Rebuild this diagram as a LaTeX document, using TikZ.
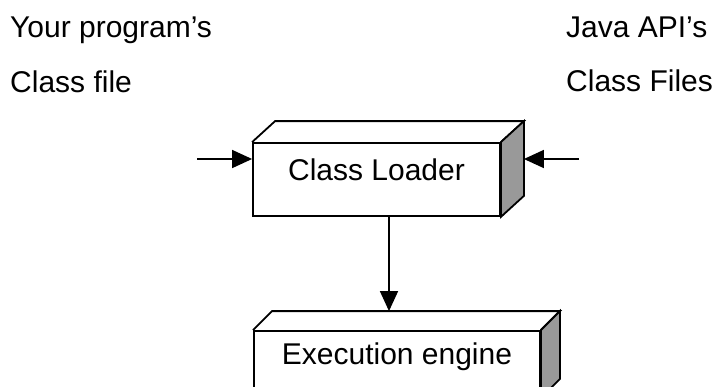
\documentclass[tikz,border=0pt]{standalone}
\usepackage{fontspec}
\setmainfont{Liberation Sans}
\usetikzlibrary{arrows.meta,calc}

\tikzset{
  stage/.style={draw, line width=1.8pt, fill=white, inner sep=0pt,
    minimum height=73pt, text depth=20pt, font=\fontsize{30}{36}\selectfont},
  srctext/.style={anchor=base west, inner sep=0pt, font=\fontsize{30}{36}\selectfont},
  facestroke/.style={line width=1.8pt, line join=miter},
  feed/.style={line width=1.5pt, -{Triangle[length=20pt,width=18pt]}},
}

% top and side face of a block whose front face is node #1
\newcommand{\blockfaces}[3]{%
  \draw[facestroke] (#1.north west) -- ++(#2,-#3)
    -- ([shift={(#2,-#3)}]#1.north east) coordinate (#1-rear) -- (#1.north east);
  \filldraw[facestroke, fill=black!40] (#1.north east) -- (#1-rear)
    -- ([shift={(#2,-#3)}]#1.south east) -- (#1.south east) -- cycle;
}

\begin{document}
\begin{tikzpicture}[x=1pt, y=-1pt]
    \clip (0,0) rectangle (717,386);
    \fill[white] (0,0) rectangle (717,386);
    % where the class files come from
    \node[srctext] (own1) at (10,37) {Your program’s};
    \node[srctext] (own2) at (10,92) {Class file};
    \node[srctext] (api1) at (566,37) {Java API’s};
    \node[srctext] (api2) at (566,91) {Class Files};
    % the two blocks
    \node[stage, minimum width=247pt] (loader) at (376.5,179.5) {Class Loader};
    \blockfaces{loader}{23}{21}
    \node[stage, minimum width=286pt, minimum height=66pt] (engine) at (397,364) {Execution engine};
    \blockfaces{engine}{19}{19}
    % arrows
    \coordinate (inL) at (197,159);
    \coordinate (inR) at (579,159);
    \coordinate (drop) at ([xshift=12.5pt]loader.south);
    \coordinate (engtop) at ([shift={(19,-19)}]engine.north west);
    \draw[feed] (inL) -- (inL -| loader.west);
    \draw[feed] (inR) -- (inR -| loader-rear);
    \draw[feed] (drop) -- (drop |- engtop);
\end{tikzpicture}
\end{document}
